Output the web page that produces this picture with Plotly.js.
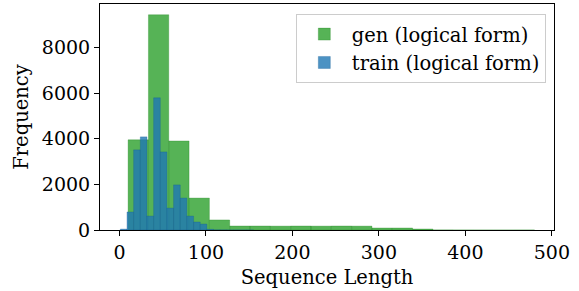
<!DOCTYPE html>
<html>
<head>
<meta charset="utf-8">
<script src="https://cdn.plot.ly/plotly-3.0.1.min.js"></script>
<style>html,body{margin:0;padding:0;background:#fff}#chart{width:579px;height:291px}</style>
</head>
<body>
<div id="chart"></div>
<script>
// Histogram data (20 bins each)
const genBinStart = 10;
const genBinSize = 23.5;
const genCounts = [3950, 9430, 3900, 1400, 440, 175, 175, 170, 175, 170, 175, 170, 88, 88, 44, 2, 1, 0, 0, 1];
const trainBinStart = 1;
const trainBinSize = 7.7;
const trainCounts = [40, 790, 3510, 4080, 610, 5790, 3420, 960, 1975, 1400, 610, 350, 260, 30, 3, 2, 1, 0, 0, 1];
const xTicks = [0, 100, 200, 300, 400, 500];
const yTicks = [0, 2000, 4000, 6000, 8000];

function edges(start, size, n) { return Array.from({length: n}, (_, i) => start + i * size); }

const font = "DejaVu Serif, serif";
const traces = [
  {type: 'bar', name: 'gen (logical form)', x: edges(genBinStart, genBinSize, genCounts.length), y: genCounts,
   width: genBinSize, offset: 0, marker: {color: 'rgba(44,160,44,0.8)', line: {width: 0.6, color: 'rgba(30,130,30,0.5)'}}},
  {type: 'bar', name: 'train (logical form)', x: edges(trainBinStart, trainBinSize, trainCounts.length), y: trainCounts,
   width: trainBinSize, offset: 0, marker: {color: 'rgba(31,119,180,0.8)', line: {width: 0.6, color: 'rgba(20,90,150,0.5)'}}}
];
const ymax = Math.max(...genCounts) * 1.05;
const layout = {
  width: 579, height: 291,
  margin: {l: 100, r: 25, t: 4, b: 61},
  paper_bgcolor: '#fff', plot_bgcolor: '#fff',
  barmode: 'overlay',
  font: {family: font, size: 19.5, color: '#000'},
  xaxis: {range: [-22.5, 502.5], tickvals: xTicks, ticktext: xTicks.map(String), ticks: 'outside', ticklen: 5, tickwidth: 1, tickcolor: '#000',
          showline: true, linecolor: '#000', linewidth: 1, mirror: true, showgrid: false, zeroline: false,
          tickfont: {size: 19}, title: {text: 'Sequence Length', font: {size: 19.5}, standoff: 8}},
  yaxis: {range: [0, ymax], tickvals: yTicks, ticktext: yTicks.map(String), ticks: 'outside', ticklen: 5, tickwidth: 1, tickcolor: '#000',
          showline: true, linecolor: '#000', linewidth: 1, mirror: true, showgrid: false, zeroline: false,
          tickfont: {size: 19}, title: {text: 'Frequency', font: {size: 19.5}, standoff: 8}},
  legend: {x: 0.982, y: 0.956, xanchor: 'right', yanchor: 'top', bgcolor: '#fff', bordercolor: '#ccc', borderwidth: 1,
           font: {size: 19.5}, traceorder: 'normal', itemwidth: 45},
  showlegend: true
};
Plotly.newPlot('chart', traces, layout, {displayModeBar: false, staticPlot: true});
</script>
</body>
</html>
